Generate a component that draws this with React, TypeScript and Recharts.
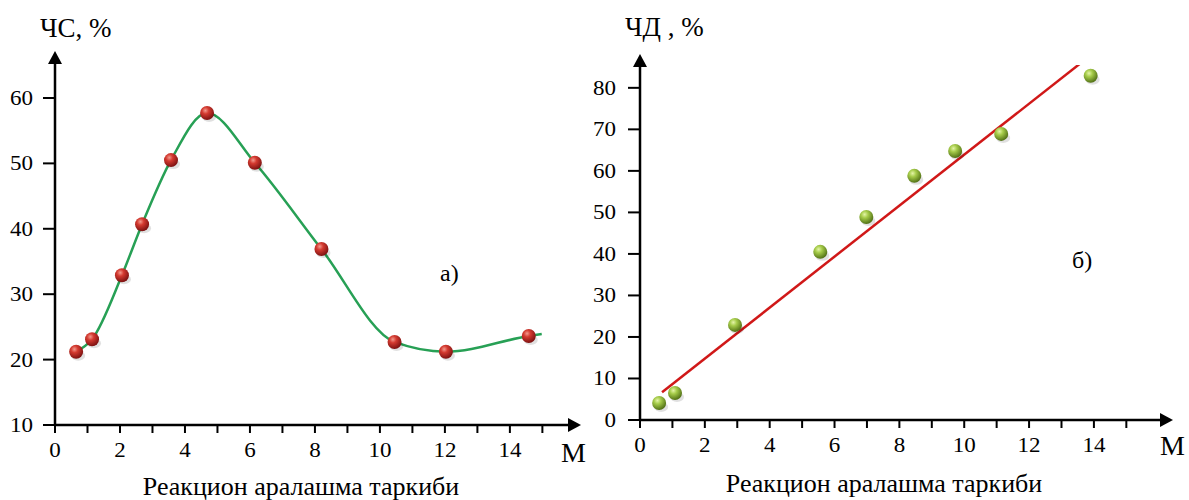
import {
  ComposedChart,
  Line,
  ReferenceDot,
  Scatter,
  XAxis,
  YAxis,
} from "recharts";

// а) ЧС, % vs M
const csX = [0.65, 1.14, 2.06, 2.68, 3.57, 4.68, 6.15, 8.2, 10.45, 12.03, 14.58];
const csY = [21.2, 23.1, 32.9, 40.7, 50.5, 57.7, 50.1, 36.9, 22.7, 21.2, 23.6];
const csCurveEnd = [14.98, 23.9];

// б) ЧД, % vs M
const cdX = [0.59, 1.08, 2.93, 5.56, 6.98, 8.46, 9.72, 11.14, 13.9];
const cdY = [4.1, 6.5, 22.9, 40.5, 48.9, 58.8, 64.8, 68.9, 82.9];
const fitX = [0.68, 13.6];
const fitY = [6.7, 86.0];

const xTicks = [0, 1, 2, 3, 4, 5, 6, 7, 8, 9, 10, 11, 12, 13, 14, 15];
const csTicks = [10, 20, 30, 40, 50, 60];
const cdTicks = [0, 10, 20, 30, 40, 50, 60, 70, 80];

const csPoints = csX.map((x, i) => ({ x, y: csY[i] }));
const csCurve = [...csPoints, { x: csCurveEnd[0], y: csCurveEnd[1] }];
const cdPoints = cdX.map((x, i) => ({ x, y: cdY[i] }));
const fitLine = fitX.map((x, i) => ({ x, y: fitY[i] }));

const FONT = "'Liberation Serif', 'Times New Roman', serif";
const axisLine = { stroke: "#000", strokeWidth: 2.5 };
const tickLine = { stroke: "#000", strokeWidth: 2 };

// the original digits are a bit wider than Times, so stretch them slightly
const XTick = (props: any) => {
  const { x, y, payload } = props;
  const v = payload.value;
  if (v % 2 !== 0) return null;
  return (
    <text
      transform={`translate(${x},${y + 20}) scale(1.15,1)`}
      textAnchor="middle"
      fontFamily={FONT}
      fontSize={20}
      fill="#000"
    >
      {v}
    </text>
  );
};

const YTick = (props: any) => {
  const { x, y, payload } = props;
  return (
    <text
      transform={`translate(${x},${y + 7}) scale(1.15,1)`}
      textAnchor="end"
      fontFamily={FONT}
      fontSize={20}
      fill="#000"
    >
      {payload.value}
    </text>
  );
};

const Ball = (color: string) => (props: any) => {
  const { cx, cy } = props;
  if (cx == null || cy == null) return null;
  return (
    <g>
      <ellipse cx={cx + 2} cy={cy + 4} rx={7} ry={5} fill="#000" opacity={0.12} />
      <circle cx={cx} cy={cy} r={7} fill={`url(#${color})`} />
    </g>
  );
};

const ArrowRight = (props: any) => {
  const { cx, cy } = props;
  return <polygon points={`${cx - 2},${cy - 7} ${cx + 11},${cy} ${cx - 2},${cy + 7}`} fill="#000" />;
};
const ArrowUp = (props: any) => {
  const { cx, cy } = props;
  return <polygon points={`${cx - 7},${cy + 2} ${cx},${cy - 11} ${cx + 7},${cy + 2}`} fill="#000" />;
};

export default function App() {
  return (
    <div
      style={{
        position: "absolute",
        left: 0,
        top: 0,
        width: 1189,
        height: 500,
        background: "#fff",
        fontFamily: FONT,
      }}
    >
      <svg width={0} height={0} style={{ position: "absolute" }}>
        <defs>
          <radialGradient id="redBall" cx="0.38" cy="0.32" r="0.7">
            <stop offset="0%" stopColor="#f29a8e" />
            <stop offset="35%" stopColor="#d43a30" />
            <stop offset="100%" stopColor="#7a1010" />
          </radialGradient>
          <radialGradient id="greenBall" cx="0.38" cy="0.32" r="0.7">
            <stop offset="0%" stopColor="#e4f4a8" />
            <stop offset="35%" stopColor="#a6cc4a" />
            <stop offset="100%" stopColor="#4f6e14" />
          </radialGradient>
        </defs>
      </svg>

      <div style={{ position: "absolute", left: 0, top: 0 }}>
        <ComposedChart width={590} height={500} margin={{ top: 62, right: 20, bottom: 45, left: 0 }}>
          <XAxis
            type="number"
            dataKey="x"
            domain={[0, 15.85]}
            ticks={xTicks}
            interval={0}
            height={30}
            tickSize={8}
            tickMargin={4}
            tick={<XTick />}
            axisLine={axisLine}
            tickLine={tickLine}
            allowDataOverflow
          />
          <YAxis
            type="number"
            dataKey="y"
            domain={[10, 65.5]}
            ticks={csTicks}
            interval={0}
            width={55}
            tickSize={12}
            tickMargin={10}
            tick={<YTick />}
            axisLine={axisLine}
            tickLine={tickLine}
            allowDataOverflow
          />
          <Line
            data={csCurve}
            dataKey="y"
            type="monotone"
            stroke="#27a055"
            strokeWidth={2.5}
            dot={false}
            activeDot={false}
            isAnimationActive={false}
          />
          <Scatter data={csPoints} dataKey="y" shape={Ball("redBall")} isAnimationActive={false} />
          <ReferenceDot x={15.85} y={10} shape={ArrowRight} />
          <ReferenceDot x={0} y={65.5} shape={ArrowUp} />
        </ComposedChart>
      </div>

      <div style={{ position: "absolute", left: 590, top: 0 }}>
        <ComposedChart width={599} height={500} margin={{ top: 65, right: 27, bottom: 50, left: 0 }}>
          <XAxis
            type="number"
            dataKey="x"
            domain={[0, 16.1]}
            ticks={xTicks}
            interval={0}
            height={30}
            tickSize={8}
            tickMargin={4}
            tick={<XTick />}
            axisLine={axisLine}
            tickLine={tickLine}
            allowDataOverflow
          />
          <YAxis
            type="number"
            dataKey="y"
            domain={[0, 85.5]}
            ticks={cdTicks}
            interval={0}
            width={50}
            tickSize={12}
            tickMargin={12}
            tick={<YTick />}
            axisLine={axisLine}
            tickLine={tickLine}
            allowDataOverflow
          />
          <Line
            data={fitLine}
            dataKey="y"
            type="linear"
            stroke="#d01818"
            strokeWidth={2.5}
            dot={false}
            activeDot={false}
            isAnimationActive={false}
          />
          <Scatter data={cdPoints} dataKey="y" shape={Ball("greenBall")} isAnimationActive={false} />
          <ReferenceDot x={16.1} y={0} shape={ArrowRight} />
          <ReferenceDot x={0} y={85.5} shape={ArrowUp} />
        </ComposedChart>
      </div>

      <svg width={1189} height={500} style={{ position: "absolute", left: 0, top: 0, pointerEvents: "none" }}>
        <g fontFamily={FONT} fill="#000">
          <text x={40} y={37} fontSize={27}>ЧС, %</text>
          <text x={440} y={281} fontSize={24}>а)</text>
          <text x={561} y={462} fontSize={28}>M</text>
          <text x={301} y={495} fontSize={26} textAnchor="middle">Реакцион аралашма таркиби</text>

          <text x={625} y={36} fontSize={27}>ЧД , %</text>
          <text x={1072} y={268} fontSize={24}>б)</text>
          <text x={1160} y={455} fontSize={28}>M</text>
          <text x={884} y={492} fontSize={26} textAnchor="middle">Реакцион аралашма таркиби</text>
        </g>
      </svg>
    </div>
  );
}
